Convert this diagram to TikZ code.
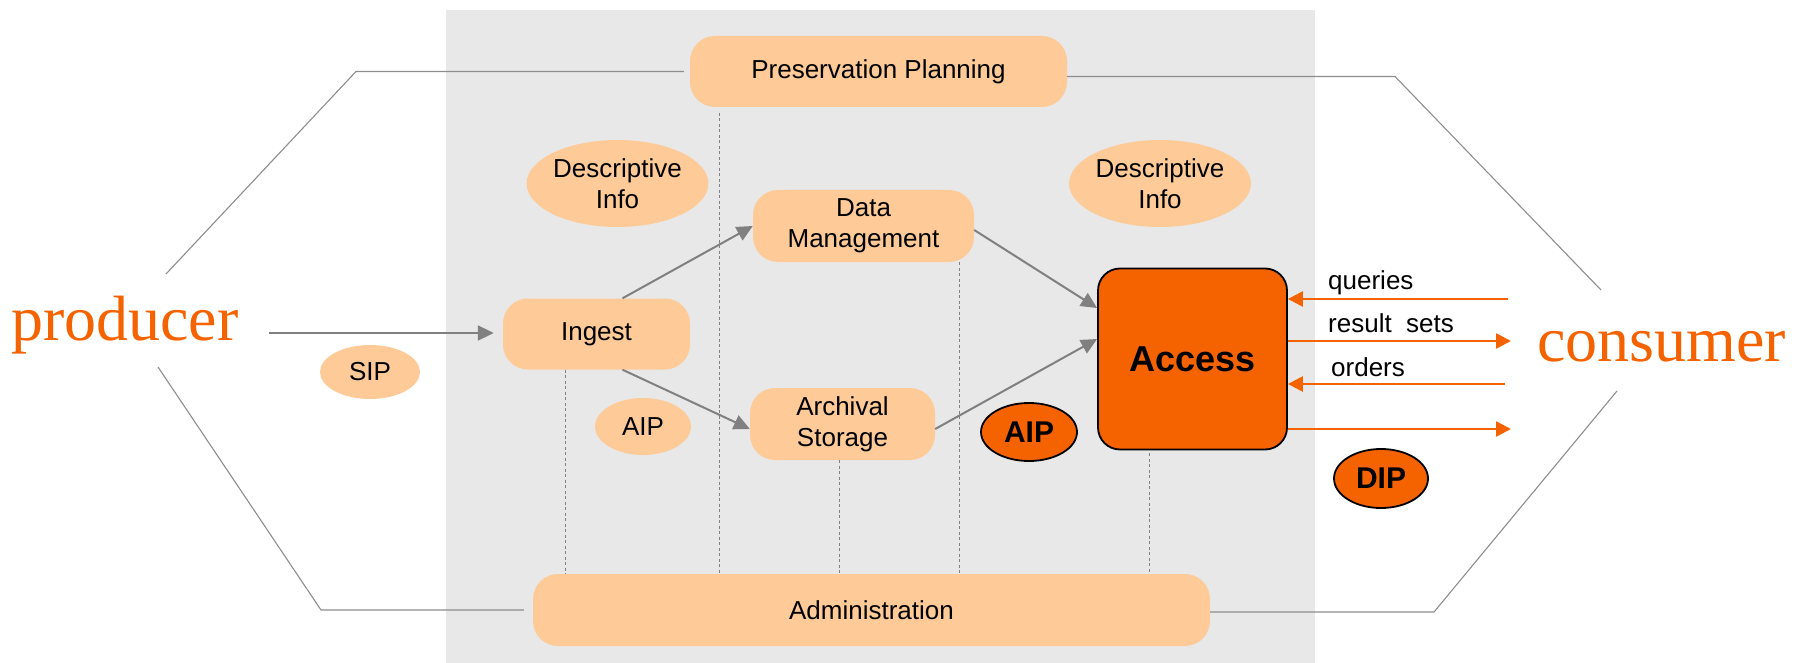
\documentclass[tikz,border=0pt]{standalone}
\usepackage{fontspec}
\setmainfont{Liberation Sans}
\newfontfamily\serifface{Liberation Serif}
\usetikzlibrary{arrows.meta,shapes.geometric,calc}
\definecolor{peach}{HTML}{FDCA98}
\definecolor{accorange}{HTML}{F56300}
\definecolor{panel}{HTML}{E8E8E8}
\definecolor{linegray}{HTML}{808080}

\begin{document}
\begin{tikzpicture}[x=1pt,y=-1pt,
  every node/.style={font=\fontsize{26}{31}\selectfont, inner sep=0pt},
  func/.style={rectangle, rounded corners=25pt, fill=peach, align=center},
  info/.style={ellipse, fill=peach, align=center},
  pkg/.style={ellipse, fill=accorange, draw=black, line width=1.8pt,
    font=\fontsize{30}{36}\selectfont\bfseries},
  actor/.style={text=accorange, font=\fontsize{64}{70}\selectfont\serifface, anchor=base west},
  flow/.style={draw=linegray, line width=2pt, -{Triangle[length=16pt,width=15pt]}},
  oflow/.style={draw=accorange, line width=2.5pt, -{Triangle[length=15pt,width=15pt]}},
  link/.style={draw=linegray, line width=1pt, dash pattern=on 3pt off 2.5pt},
  frame/.style={draw=linegray!90, line width=1.1pt},
  lbl/.style={anchor=west}
]
\useasboundingbox (0,0) rectangle (1796,663);

% archive panel
\fill[panel] (446,10) rectangle (1315,663);

% functional entities
\node[func, minimum width=377pt, minimum height=71pt] (pp) at (878.5,71.5) {Preservation Planning};
\node[func, minimum width=187pt, minimum height=71pt] (ingest) at (596.5,334) {Ingest};
\node[func, minimum width=221pt, minimum height=72pt] (dm) at (863.5,226) {Data\\Management};
\node[func, minimum width=185pt, minimum height=72pt] (as) at (842.5,424) {Archival\\Storage};
\node[func, minimum width=677pt, minimum height=72pt] (adm) at (871.5,610) {Administration};
\node[rectangle, rounded corners=22pt, fill=accorange, draw=black, line width=1.8pt,
      minimum width=189pt, minimum height=181pt,
      font=\fontsize{36}{42}\selectfont\bfseries] (acc) at (1192.5,359) {Access};

% information packages
\node[info, minimum width=169pt, minimum height=87pt] (desc1) at (617.5,183.5) {Descriptive\\Info};
\node[info, minimum width=170pt, minimum height=87pt] (desc2) at (1160,183.5) {Descriptive\\Info};
\node[info, minimum width=100pt, minimum height=54pt] (sip) at (370,372) {SIP};
\node[info, minimum width=96pt, minimum height=57pt] (aip1) at (643,426.5) {AIP};
\node[pkg, minimum width=96pt, minimum height=58pt] (aip2) at (1029,432) {AIP};
\node[pkg, minimum width=94pt, minimum height=59pt] (dip) at (1381,478.5) {DIP};

% actors
\node[actor] (producer) at (11,340) {producer};
\node[actor] (consumer) at (1537,361) {consumer};

% environment outline
\coordinate (l1) at (356,71.5);
\coordinate (l2) at (166,274);
\coordinate (l3) at (158,367);
\coordinate (l4) at (321,610);
\coordinate (r1) at (1395,76.5);
\coordinate (r2) at (1601,290);
\coordinate (r3) at (1617,391);
\coordinate (r4) at (1434,612);
\draw[frame, shorten <=6pt] (pp.west) -- (l1) -- (l2);
\draw[frame, shorten >=9pt] (l3) -- (l4) -- (adm.west);
\draw[frame] ([yshift=-5pt]pp.east) -- (r1) -- (r2);
\draw[frame] (r3) -- (r4) -- ([yshift=-2pt]adm.east);

% administrative links
\coordinate (d1) at ([xshift=-31.5pt]ingest.south);
\coordinate (d2) at (719,113);
\coordinate (d3) at ([xshift=-3.5pt]as.south);
\coordinate (d4) at ([xshift=95.5pt]dm.south);
\coordinate (d5) at ([xshift=-43.5pt,yshift=-3pt]acc.south);
\foreach \c in {d1,d2,d3,d4,d5}
  \draw[link] (\c) -- (\c |- adm.north);

% internal flows
\coordinate (sipstart) at (269,333);
\draw[flow, shorten >=9pt] (sipstart) -- (sipstart -| ingest.west);
\draw[flow] ([xshift=26pt]ingest.north) -- (dm.west);
\draw[flow] ([xshift=26pt]ingest.south) -- ([yshift=-5pt]as.west);
\draw[flow] ([yshift=-4pt]dm.east) -- ([yshift=51pt]acc.west);
\draw[flow] ([yshift=-5pt]as.east) -- ([yshift=20pt]acc.west);

% consumer exchanges
\coordinate (qs) at (1508,299);
\coordinate (rs) at (1511,341);
\coordinate (os) at (1505,384);
\coordinate (ds) at (1511,429);
\draw[oflow] (qs) -- (qs -| acc.east);
\draw[oflow] (rs -| acc.east) -- (rs);
\draw[oflow] (os) -- (os -| acc.east);
\draw[oflow] (ds -| acc.east) -- (ds);
\node[lbl] (lq) at (1328,283) {queries};
\node[lbl] (lr) at (1328,323) {result\ \ sets};
\node[lbl] (lo) at (1331,367) {orders};
\end{tikzpicture}
\end{document}
